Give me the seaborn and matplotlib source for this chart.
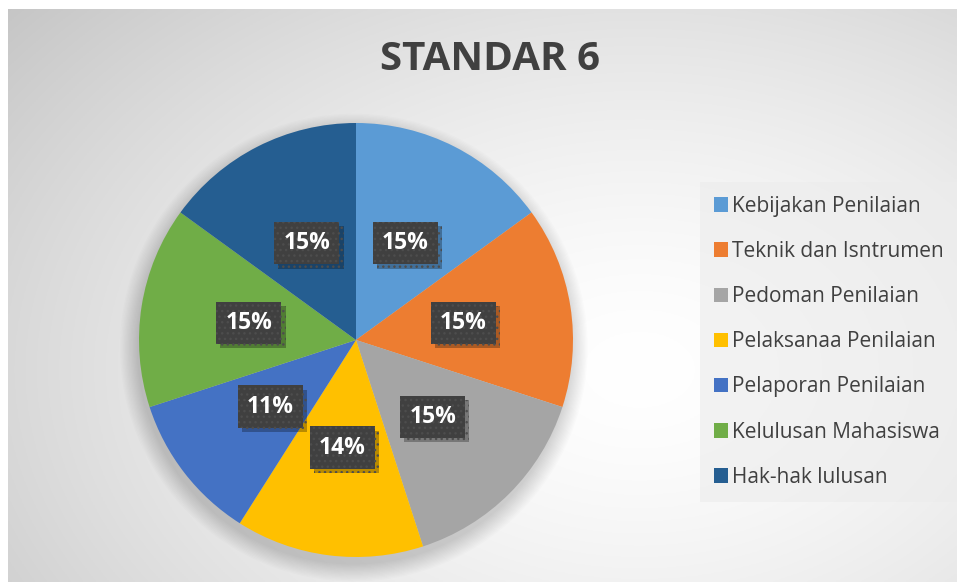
import numpy as np
import matplotlib
matplotlib.use("Agg")
import matplotlib.pyplot as plt
import seaborn as sns
from matplotlib.patches import Circle
import matplotlib.patheffects as pe

categories = ["Kebijakan Penilaian", "Teknik dan Isntrumen", "Pedoman Penilaian",
              "Pelaksanaa Penilaian", "Pelaporan Penilaian", "Kelulusan Mahasiswa",
              "Hak-hak lulusan"]
values = [15, 15, 15, 14, 11, 15, 15]
colors = ["#5B9BD5", "#ED7D31", "#A5A5A5", "#FFC000", "#4472C4", "#70AD47", "#255E91"]
title = "STANDAR 6"

sns.set_theme(style="white")
plt.rcParams['font.family'] = ['Open Sans', 'DejaVu Sans']

W, H = 959, 582
fig = plt.figure(figsize=(W / 100, H / 100), dpi=100)
fig.patch.set_facecolor("white")

# background radial gradient
x0, x1, y0, y1 = 8, 957, 9, 582
bg = fig.add_axes([x0 / W, 0, (x1 - x0) / W, (H - y0) / H])
bg.set_axis_off()
nx, ny = 480, 290
xx, yy = np.meshgrid(np.linspace(x0, x1, nx), np.linspace(y0, y1, ny))
cx, cy = 640, 370
d = np.sqrt(((xx - cx) / 700) ** 2 + ((yy - cy) / 480) ** 2) / 1.16
g = 1.0 - 0.22 * np.clip(d, 0, 1.2) ** 1.5
img = np.dstack([g, g, g])
bg.imshow(np.clip(img, 0, 1), extent=[0, 1, 0, 1], aspect="auto", origin="upper")
bg.set_xlim(0, 1)
bg.set_ylim(0, 1)

# pie
cxp, cyp, r = 356, 340, 217
lim = 1.12
ra = r * lim
ax = fig.add_axes([(cxp - ra) / W, (H - cyp - ra) / H, 2 * ra / W, 2 * ra / H])
ax.set_axis_off()
for i in range(14):
    ax.add_patch(Circle((-0.01, -0.035), 1.0 + 0.006 * i, color="black", alpha=0.011, zorder=0, lw=0))
wedges, texts, autotexts = ax.pie(values, colors=colors, startangle=90, counterclock=False,
                                  autopct="%.0f%%", pctdistance=0.5,
                                  wedgeprops=dict(linewidth=0), radius=1.0)
for w in wedges:
    w.set_zorder(2)
for t in autotexts:
    t.set_color("white")
    t.set_fontsize(16.5)
    t.set_fontweight("bold")
    t.set_zorder(5)
    t.set_bbox(dict(boxstyle="square,pad=0.4", facecolor="#404040", edgecolor="#4d4d4d",
                    linewidth=0, hatch="..."))
    t.get_bbox_patch().set_path_effects([
        pe.SimplePatchShadow(offset=(3, -3), shadow_rgbFace="black", alpha=0.28),
        pe.Normal()])
ax.set_xlim(-lim, lim)
ax.set_ylim(-lim, lim)

fig.text(490 / W, 1 - 60 / H, title, ha="center", va="center", fontsize=29,
         fontweight="bold", color="#404040")

leg = fig.legend(wedges, categories, loc="upper left",
                 bbox_to_anchor=(700 / W, 1 - 497 / H, 257 / W, 315 / H), mode="expand",
                 borderaxespad=0, fontsize=15, frameon=True, fancybox=False,
                 labelspacing=1.16, handlelength=0.7, handleheight=0.7,
                 handletextpad=0.2, borderpad=0.66, labelcolor="#404040")
leg.get_frame().set_facecolor("#ececec")
leg.get_frame().set_alpha(0.6)
leg.get_frame().set_linewidth(0)

fig.savefig("out.png", dpi=100)
